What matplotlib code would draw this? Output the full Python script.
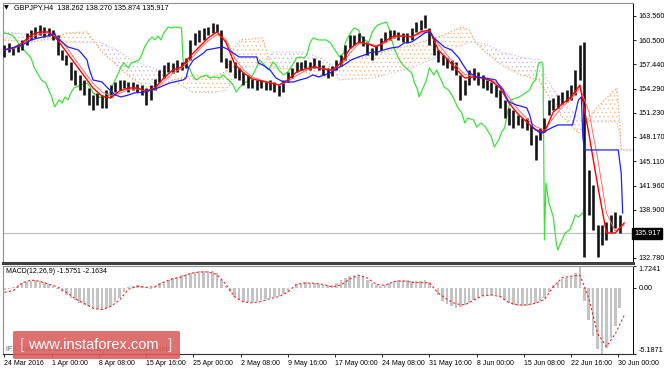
import matplotlib
matplotlib.use('Agg')
import matplotlib.pyplot as plt
import numpy as np
from matplotlib.patches import FancyBboxPatch
from matplotlib.transforms import blended_transform_factory

plt.rcParams['font.family'] = ['Liberation Sans', 'DejaVu Sans']
plt.rcParams['hatch.linewidth'] = 0.5

# ---------------- data ----------------
symbol_title = "GBPJPY,H4  138.262 138.270 135.874 135.917"
macd_title = "MACD(12,26,9) -1.5751 -2.1634"
last_price = 135.917

date_ticks = ["24 Mar 2016", "1 Apr 00:00", "8 Apr 08:00", "15 Apr 16:00", "25 Apr 00:00",
              "2 May 08:00", "9 May 16:00", "17 May 00:00", "24 May 08:00", "31 May 16:00",
              "8 Jun 00:00", "15 Jun 08:00", "22 Jun 16:00", "30 Jun 00:00"]
date_tick_bars = [0, 32, 64, 96, 128, 160, 192, 224, 256, 288, 320, 352, 384, 416]

price_ticks = [163.560, 160.500, 157.440, 154.290, 151.230, 148.170, 145.110, 141.960, 138.900, 132.780]
price_tick_labels = ["163.560", "160.500", "157.440", "154.290", "151.230", "148.170",
                     "145.110", "141.960", "138.900", "132.780"]
macd_ticks = [1.7241, 0.0, -5.1871]
macd_tick_labels = ["1.7241", "0.00", "-5.1871"]

# price bars (every 3rd H4 bar)
price_bars = np.arange(0, 420, 3)
high = [159.9, 160.1, 159.6, 159.9, 160.5, 161.4, 161.8, 162.2, 162.4, 162.2,
        162.0, 161.8, 161.1, 159.2, 158.6, 157.7, 156.7, 156.1, 155.4, 154.4,
        153.5, 153.8, 153.5, 154.2, 154.8, 155.2, 155.4, 155.4, 155.2, 155.2,
        154.9, 154.8, 154.4, 154.8, 155.6, 156.7, 157.3, 157.7, 157.6, 158.0,
        157.7, 158.2, 160.5, 161.4, 161.8, 162.0, 162.2, 162.7, 162.6, 161.8,
        158.2, 158.0, 157.7, 156.9, 156.4, 156.1, 155.6, 155.4, 155.4, 155.2,
        155.4, 155.2, 154.8, 155.4, 156.4, 156.9, 157.7, 157.7, 158.0, 157.7,
        158.2, 158.0, 157.3, 156.9, 157.2, 158.0, 158.6, 159.9, 161.1, 161.1,
        161.4, 161.0, 160.3, 159.5, 159.9, 160.8, 161.5, 161.8, 161.8, 161.5,
        161.4, 161.4, 162.0, 162.8, 163.1, 163.7, 162.0, 160.8, 159.2, 158.6,
        158.2, 158.0, 157.7, 156.1, 155.4, 156.7, 156.9, 156.4, 156.1, 155.4,
        155.2, 154.8, 154.2, 152.9, 151.9, 151.6, 151.0, 150.6, 150.6, 149.7,
        148.4, 149.3, 150.6, 152.9, 153.1, 153.5, 153.9, 154.2, 154.8, 156.7,
        159.9, 160.2, 144.0, 142.1, 137.0, 137.0, 137.3, 138.2, 138.6, 138.3]
low = [158.3, 159.0, 158.6, 159.0, 159.2, 159.9, 160.5, 160.8, 161.1, 160.9,
       161.0, 160.5, 158.6, 158.0, 157.3, 155.4, 154.8, 154.2, 153.5, 152.2,
       151.6, 152.2, 151.9, 151.9, 153.3, 153.9, 154.2, 154.4, 153.9, 154.2,
       153.9, 153.5, 152.2, 152.9, 154.2, 155.2, 155.7, 156.4, 156.3, 156.4,
       156.7, 156.9, 158.0, 159.9, 160.3, 160.5, 161.1, 161.4, 161.5, 157.7,
       156.9, 156.4, 155.7, 155.4, 154.8, 154.4, 154.4, 154.2, 154.4, 154.2,
       154.2, 153.9, 153.4, 153.9, 155.2, 155.7, 156.4, 156.7, 156.9, 156.7,
       156.9, 156.7, 156.1, 155.7, 155.9, 156.7, 157.2, 158.0, 159.5, 159.9,
       160.1, 159.7, 158.6, 158.0, 158.6, 159.2, 160.3, 160.5, 160.8, 160.5,
       160.3, 160.1, 160.5, 161.5, 161.8, 162.0, 159.9, 158.6, 157.7, 157.3,
       156.9, 156.7, 156.1, 152.9, 153.5, 154.8, 155.4, 154.8, 154.4, 154.2,
       153.8, 153.3, 151.9, 150.6, 149.7, 149.3, 149.7, 149.3, 149.1, 147.2,
       145.2, 147.8, 148.8, 151.0, 151.6, 151.9, 152.4, 152.6, 152.9, 153.5,
       155.4, 132.9, 138.2, 136.3, 132.9, 134.4, 135.1, 136.1, 136.6, 135.9]

# indicator lines sampled every 6 bars
line_bars = np.arange(0, 421, 6)
tenkan = [159.24, 159.49, 160.13, 161.14, 161.53, 161.53, 160.51, 158.98, 157.45, 155.93,
          154.40, 153.38, 153.13, 154.02, 154.40, 154.40, 154.02, 154.40, 155.67, 156.69,
          157.07, 158.47, 159.62, 160.76, 161.53, 160.25, 157.45, 156.31, 155.55, 155.29,
          155.04, 154.78, 155.42, 156.44, 156.82, 157.07, 156.82, 156.69, 157.58, 159.36,
          160.25, 160.00, 159.62, 160.38, 161.02, 161.02, 160.89, 161.53, 161.78, 159.24,
          158.09, 156.82, 155.67, 155.80, 155.67, 155.29, 154.40, 152.49, 151.10, 150.08,
          149.06, 148.81, 151.35, 152.37, 153.26, 154.78, 148.68, 142.06, 135.96, 135.96,
          137.23]
ma_line = [159.3, 159.4, 159.9, 160.8, 161.3, 161.4, 160.9, 159.6, 158.0, 156.5,
           155.0, 153.9, 153.4, 153.7, 154.2, 154.3, 154.0, 154.2, 155.2, 156.3,
           156.9, 158.0, 159.3, 160.4, 161.2, 160.6, 158.2, 156.7, 155.8, 155.4,
           155.1, 154.8, 155.2, 156.0, 156.6, 157.0, 156.9, 156.6, 157.2, 158.8,
           160.0, 160.1, 159.8, 160.1, 160.8, 161.0, 160.9, 161.3, 161.7, 160.0,
           158.6, 157.3, 156.1, 155.9, 155.7, 155.4, 154.8, 153.2, 151.7, 150.5,
           149.5, 149.0, 150.6, 152.0, 153.0, 154.4, 151.5, 145.5, 138.5, 136.2,
           137.0]

kijun_bars = [0, 5, 12, 18, 23, 32, 34, 35, 39, 43, 50, 52, 56, 57, 60, 66, 70, 75, 79, 84,
              88, 95, 100, 104, 112, 121, 123, 125, 128, 135, 137, 144, 148, 152, 157, 159,
              171, 172, 175, 180, 184, 189, 196, 200, 205, 209, 213, 217, 222, 226, 230,
              235, 240, 244, 249, 253, 257, 262, 267, 271, 276, 280, 285, 287, 289, 291,
              295, 298, 303, 308, 310, 314, 320, 326, 333, 335, 338, 340, 342, 347, 352,
              354, 356, 358, 362, 365, 368, 372, 375, 385, 387, 389, 391, 392, 393, 416,
              418, 419]
kijun = [159.24, 159.49, 159.87, 160.51, 160.76, 161.14, 161.40, 160.89, 160.25, 159.62,
         159.24, 158.85, 157.96, 157.07, 155.42, 155.17, 154.40, 153.51, 153.26, 153.51,
         153.77, 153.89, 154.15, 154.40, 155.04, 155.42, 155.67, 157.07, 157.96, 158.85,
         159.24, 159.49, 159.62, 159.24, 158.60, 158.35, 158.35, 157.58, 157.33, 156.69,
         155.67, 155.17, 155.17, 155.42, 155.67, 156.06, 155.80, 156.06, 156.44, 156.95,
         157.33, 157.96, 158.35, 158.60, 158.98, 158.98, 159.24, 159.49, 159.62, 160.13,
         160.25, 160.76, 161.40, 161.53, 161.40, 160.76, 160.13, 159.62, 159.24, 158.22,
         157.58, 156.44, 155.80, 155.67, 155.42, 154.78, 154.15, 153.26, 152.62, 152.24,
         151.99, 151.86, 150.97, 149.44, 148.81, 148.68, 149.06, 149.44, 149.70, 149.70,
         151.22, 152.88, 153.26, 148.17, 146.52, 146.52, 143.59, 138.50]

chikou_bars = [0, 5, 8, 10, 15, 18, 20, 25, 28, 32, 34, 37, 39, 41, 43, 45, 47, 52, 56, 58,
               60, 64, 67, 70, 72, 74, 76, 79, 81, 84, 86, 88, 91, 93, 95, 98, 100, 102, 104, 106,
               108, 111, 113, 116, 120, 121, 123, 125, 128, 130, 133, 137, 139, 142, 146, 148,
               152, 155, 157, 159, 162, 164, 166, 169, 171, 173, 175, 179, 182, 184, 186, 189,
               192, 196, 198, 200, 203, 205, 207, 209, 213, 218, 221, 224, 227, 230, 231, 233,
               235, 237, 240, 242, 244, 247, 249, 251, 253, 257, 259, 261, 262, 264, 267, 269,
               272, 276, 278, 280, 281, 284, 286, 288, 291, 293, 295, 298, 301, 304, 307, 310,
               312, 314, 318, 320, 323, 326, 330, 332, 335, 337, 339, 341, 343, 349, 356, 358,
               360, 362, 364, 365, 366, 367, 369, 372, 374, 375, 377, 380, 383, 385, 387, 389,
               392]
chikou = [161.40, 161.14, 160.51, 159.87, 158.85, 158.22, 157.07, 155.42, 155.04, 153.26,
          151.99, 152.88, 152.49, 153.26, 152.88, 153.77, 154.40, 154.78, 155.04, 154.53,
          153.77, 153.26, 153.13, 153.26, 154.15, 155.04, 155.80, 157.07, 157.58, 156.95,
          157.58, 157.71, 157.96, 158.60, 159.62, 160.51, 160.89, 160.51, 161.02, 160.51,
          161.40, 162.16, 162.03, 162.16, 162.03, 157.96, 157.07, 157.07, 155.80, 155.42,
          155.80, 156.06, 155.67, 155.80, 155.67, 156.06, 155.42, 154.78, 153.89, 154.40,
          155.04, 155.17, 155.42, 156.31, 157.07, 157.96, 157.58, 156.69, 157.71, 157.33,
          156.69, 156.06, 156.44, 157.58, 158.22, 158.35, 158.22, 158.60, 160.13, 160.76,
          160.51, 160.51, 160.13, 159.24, 158.35, 158.85, 160.13, 160.89, 161.53, 162.03,
          161.78, 160.89, 160.51, 160.25, 161.40, 162.03, 162.42, 162.67, 162.80, 161.78,
          160.89, 159.49, 158.22, 157.58, 156.95, 156.31, 155.04, 154.15, 153.26, 154.53,
          155.42, 156.95, 156.06, 156.69, 155.80, 154.53, 154.15, 153.26, 151.99, 151.22,
          149.95, 150.58, 150.33, 149.44, 149.95, 149.44, 148.17, 146.90, 147.79, 148.81,
          149.32, 151.35, 152.88, 153.26, 154.15, 155.04, 155.42, 157.58, 157.71, 157.33,
          135.07, 142.32, 139.78, 137.99, 134.69, 133.80, 134.69, 135.96, 136.34, 137.23,
          138.25, 137.99, 138.50]

cloud_bars = [0, 18, 35, 42, 56, 61, 66, 76, 86, 96, 106, 114, 127, 140, 150, 155, 160, 175,
              179, 182, 201, 215, 224, 226, 249, 276, 296, 310, 315, 319, 326, 337, 350, 362,
              367, 377, 389, 394, 399, 408, 415, 417, 418, 426]
span_a = [160.51, 160.25, 160.76, 161.40, 161.53, 160.25, 158.98, 157.33, 155.67, 154.53,
          154.66, 155.42, 155.93, 155.80, 156.44, 159.24, 160.51, 160.76, 158.22, 156.95,
          156.69, 155.67, 156.44, 157.71, 158.60, 159.87, 161.02, 162.16, 161.78, 160.25,
          158.98, 157.33, 156.06, 155.42, 153.89, 150.97, 148.68, 150.08, 151.35, 153.13,
          154.40, 150.30, 146.52, 146.52]
span_b = [161.53, 161.14, 160.76, 160.25, 160.13, 160.25, 160.13, 159.24, 157.96, 157.20,
          156.69, 155.42, 153.89, 153.77, 154.15, 155.42, 156.95, 157.33, 158.22, 158.98,
          158.98, 158.22, 156.95, 155.42, 155.67, 156.95, 158.60, 159.87, 160.25, 160.25,
          160.00, 158.98, 158.35, 157.96, 155.67, 152.88, 150.71, 150.08, 150.08, 150.08,
          150.08, 148.50, 146.52, 146.52]

macd_hist = [-0.2, -0.1, 0.05, 0.25, 0.35, 0.5, 0.57, 0.62, 0.58, 0.48,
             0.33, 0.15, -0.05, -0.3, -0.55, -0.78, -0.95, -1.15, -1.3, -1.45,
             -1.58, -1.68, -1.68, -1.6, -1.4, -1.1, -0.75, -0.3, 0.05, 0.18,
             0.24, 0.15, 0.05, -0.05, 0.12, 0.35, 0.5, 0.65, 0.75, 0.87,
             0.98, 1.1, 1.18, 1.27, 1.32, 1.35, 1.35, 1.32, 1.15, 0.65,
             0.15, -0.35, -0.7, -0.95, -1.1, -1.12, -1.1, -1.02, -0.95, -0.88,
             -0.78, -0.68, -0.6, -0.5, -0.32, 0.02, 0.28, 0.4, 0.45, 0.42,
             0.37, 0.32, 0.25, 0.2, 0.25, 0.38, 0.6, 0.78, 0.9, 0.98,
             0.97, 0.88, 0.6, 0.38, 0.2, 0.12, 0.25, 0.42, 0.58, 0.65,
             0.62, 0.6, 0.57, 0.55, 0.57, 0.6, 0.45, 0.0, -0.55, -1.0,
             -1.28, -1.42, -1.55, -1.52, -1.35, -1.15, -0.92, -0.75, -0.65, -0.55,
             -0.55, -0.55, -0.7, -0.92, -1.2, -1.33, -1.38, -1.4, -1.38, -1.35,
             -1.2, -1.05, -0.75, -0.35, 0.2, 0.5, 0.7, 0.82, 0.92, 1.2,
             1.72, -1.0, -2.5, -3.8, -4.8, -5.18, -4.7, -3.9, -3.0, -1.58]
macd_signal = [-0.35, -0.2, 0.4, 0.62, 0.52, 0.3, 0.08, -0.35, -0.85, -1.2,
               -1.6, -1.7, -1.45, -0.95, -0.1, 0.13, 0.05, 0.1, 0.47, 0.72,
               0.86, 1.15, 1.25, 1.26, 1.05, 0.3, -0.7, -1.1, -1.17, -1.05,
               -0.84, -0.68, -0.33, 0.3, 0.39, 0.37, 0.28, 0.08, 0.23, 0.7,
               1.0, 0.78, 0.28, 0.2, 0.5, 0.56, 0.44, 0.42, 0.4, -0.4,
               -0.9, -1.25, -1.33, -0.95, -0.62, -0.55, -0.68, -1.15, -1.33, -1.33,
               -1.2, -0.9, 0.1, 0.8, 0.92, 1.0, -0.8, -3.6, -4.6, -3.6,
               -2.16]

# ---------------- figure ----------------
W, H = 664, 369
fig = plt.figure(figsize=(W / 100, H / 100), dpi=100)
fig.patch.set_facecolor('white')

ax = fig.add_axes([3 / W, 1 - 263 / H, 630 / W, 260 / H])
axm = fig.add_axes([3 / W, 1 - 354 / H, 630 / W, 88 / H], sharex=ax)

# cloud
cb = np.array(cloud_bars)
sa = np.array(span_a)
sb = np.array(span_b)
ax.fill_between(cb, sa, sb, where=sa >= sb, interpolate=True, facecolor='none',
                edgecolor='#f7bd90', hatch='....', linewidth=0, zorder=1)
ax.fill_between(cb, sa, sb, where=sa < sb, interpolate=True, facecolor='none',
                edgecolor='#d6b8d6', hatch='....', linewidth=0, zorder=1)
ax.plot(cb, sa, color='#f4a460', ls=':', lw=0.9, zorder=1.5)
ax.plot(cb, sb, color='#d8bfd8', ls=':', lw=0.9, zorder=1.5)

# current price line
ax.axhline(last_price, color='#c0c0c0', lw=0.9, zorder=1.2)

# chikou
ax.plot(chikou_bars, chikou, color='#3ee03e', lw=0.9, zorder=2)

# price bars
ax.vlines(price_bars, low, high, color='#151515', lw=1.9, zorder=3)

# tenkan, MA, kijun
ax.plot(line_bars, ma_line, color='#ff6a6a', lw=0.7, zorder=4)
ax.plot(line_bars, tenkan, color='#ff0000', lw=1.0, zorder=4)
ax.plot(kijun_bars, kijun, color='#1f1fff', lw=0.9, zorder=4)

ax.set_xlim(-1, 426)
ax.set_ylim(132.14, 165.21)

ax.yaxis.tick_right()
ax.set_yticks(price_ticks)
ax.set_yticklabels(price_tick_labels)
ax.tick_params(axis='y', labelsize=5.2, length=2.5, width=0.6, pad=1.5, colors='black')
ax.tick_params(axis='x', bottom=False, labelbottom=False)

trans = blended_transform_factory(ax.transAxes, ax.transData)
ax.text(1.002, last_price, "135.917", transform=trans, fontsize=5.2, color='white',
        va='center', ha='left',
        bbox=dict(facecolor='black', edgecolor='black', boxstyle='square,pad=0.25'))

for side in ['left', 'top']:
    ax.spines[side].set_color('#909090')
    ax.spines[side].set_linewidth(0.8)
ax.spines['right'].set_color('black')
ax.spines['right'].set_linewidth(0.7)
ax.spines['bottom'].set_color('#404040')
ax.spines['bottom'].set_linewidth(2.2)

# MACD
axm.bar(price_bars, macd_hist, width=1.7, color='#c4c4c4', linewidth=0, zorder=1)
axm.plot(line_bars, macd_signal, color='#ff2020', lw=0.8, ls=(0, (2, 2)), zorder=2)
axm.set_ylim(-5.1871, 1.7241)
axm.yaxis.tick_right()
axm.set_yticks(macd_ticks)
axm.set_yticklabels(macd_tick_labels)
axm.tick_params(axis='y', labelsize=5.2, length=2.5, width=0.6, pad=1.5)
yl = axm.get_yticklabels()
yl[0].set_va('top')
yl[2].set_va('bottom')

axm.set_xticks(date_tick_bars)
axm.set_xticklabels(date_ticks, ha='left')
axm.tick_params(axis='x', labelsize=5.0, length=2.5, width=0.6, pad=1.5)

for side in ['left', 'top']:
    axm.spines[side].set_color('#909090')
    axm.spines[side].set_linewidth(0.8)
axm.spines['right'].set_color('black')
axm.spines['right'].set_linewidth(0.7)
axm.spines['bottom'].set_color('#303030')
axm.spines['bottom'].set_linewidth(0.8)

# titles
fig.text(4 / W, 1 - 7.5 / H, "▼", fontsize=4.5, color='black', va='center', ha='left',
         family=['DejaVu Sans'])
fig.text(14 / W, 1 - 7.5 / H, symbol_title, fontsize=5.2, color='black', va='center', ha='left')
fig.text(6 / W, 1 - 271.5 / H, macd_title, fontsize=5.0, color='black', va='center', ha='left')

# copyright text partly hidden by the watermark
fig.text(6 / W, 1 - 349 / H, "IFX Trader \u00a9 2001-2016 MetaQuotes Software Corp.",
         fontsize=5.0, color='#555555', va='center', ha='left', zorder=5)

# watermark
box = FancyBboxPatch((13 / W, 1 - 359 / H), 167 / W, 28 / H,
                     boxstyle='round,pad=0,rounding_size=0.004',
                     transform=fig.transFigure, facecolor=(0.86, 0.36, 0.36),
                     edgecolor='none', alpha=0.88, zorder=10)
fig.patches.append(box)
fig.text(20 / W, 1 - 345 / H, "[", fontsize=11, color='#f4dcdc', va='center', ha='left', zorder=11)
fig.text(28 / W, 1 - 345 / H, "www.instaforex.com", fontsize=10.5, color='white',
         va='center', ha='left', zorder=11)
fig.text(168 / W, 1 - 345 / H, "]", fontsize=11, color='#f4dcdc', va='center', ha='left', zorder=11)

fig.savefig('out.png', dpi=100, facecolor='white')
